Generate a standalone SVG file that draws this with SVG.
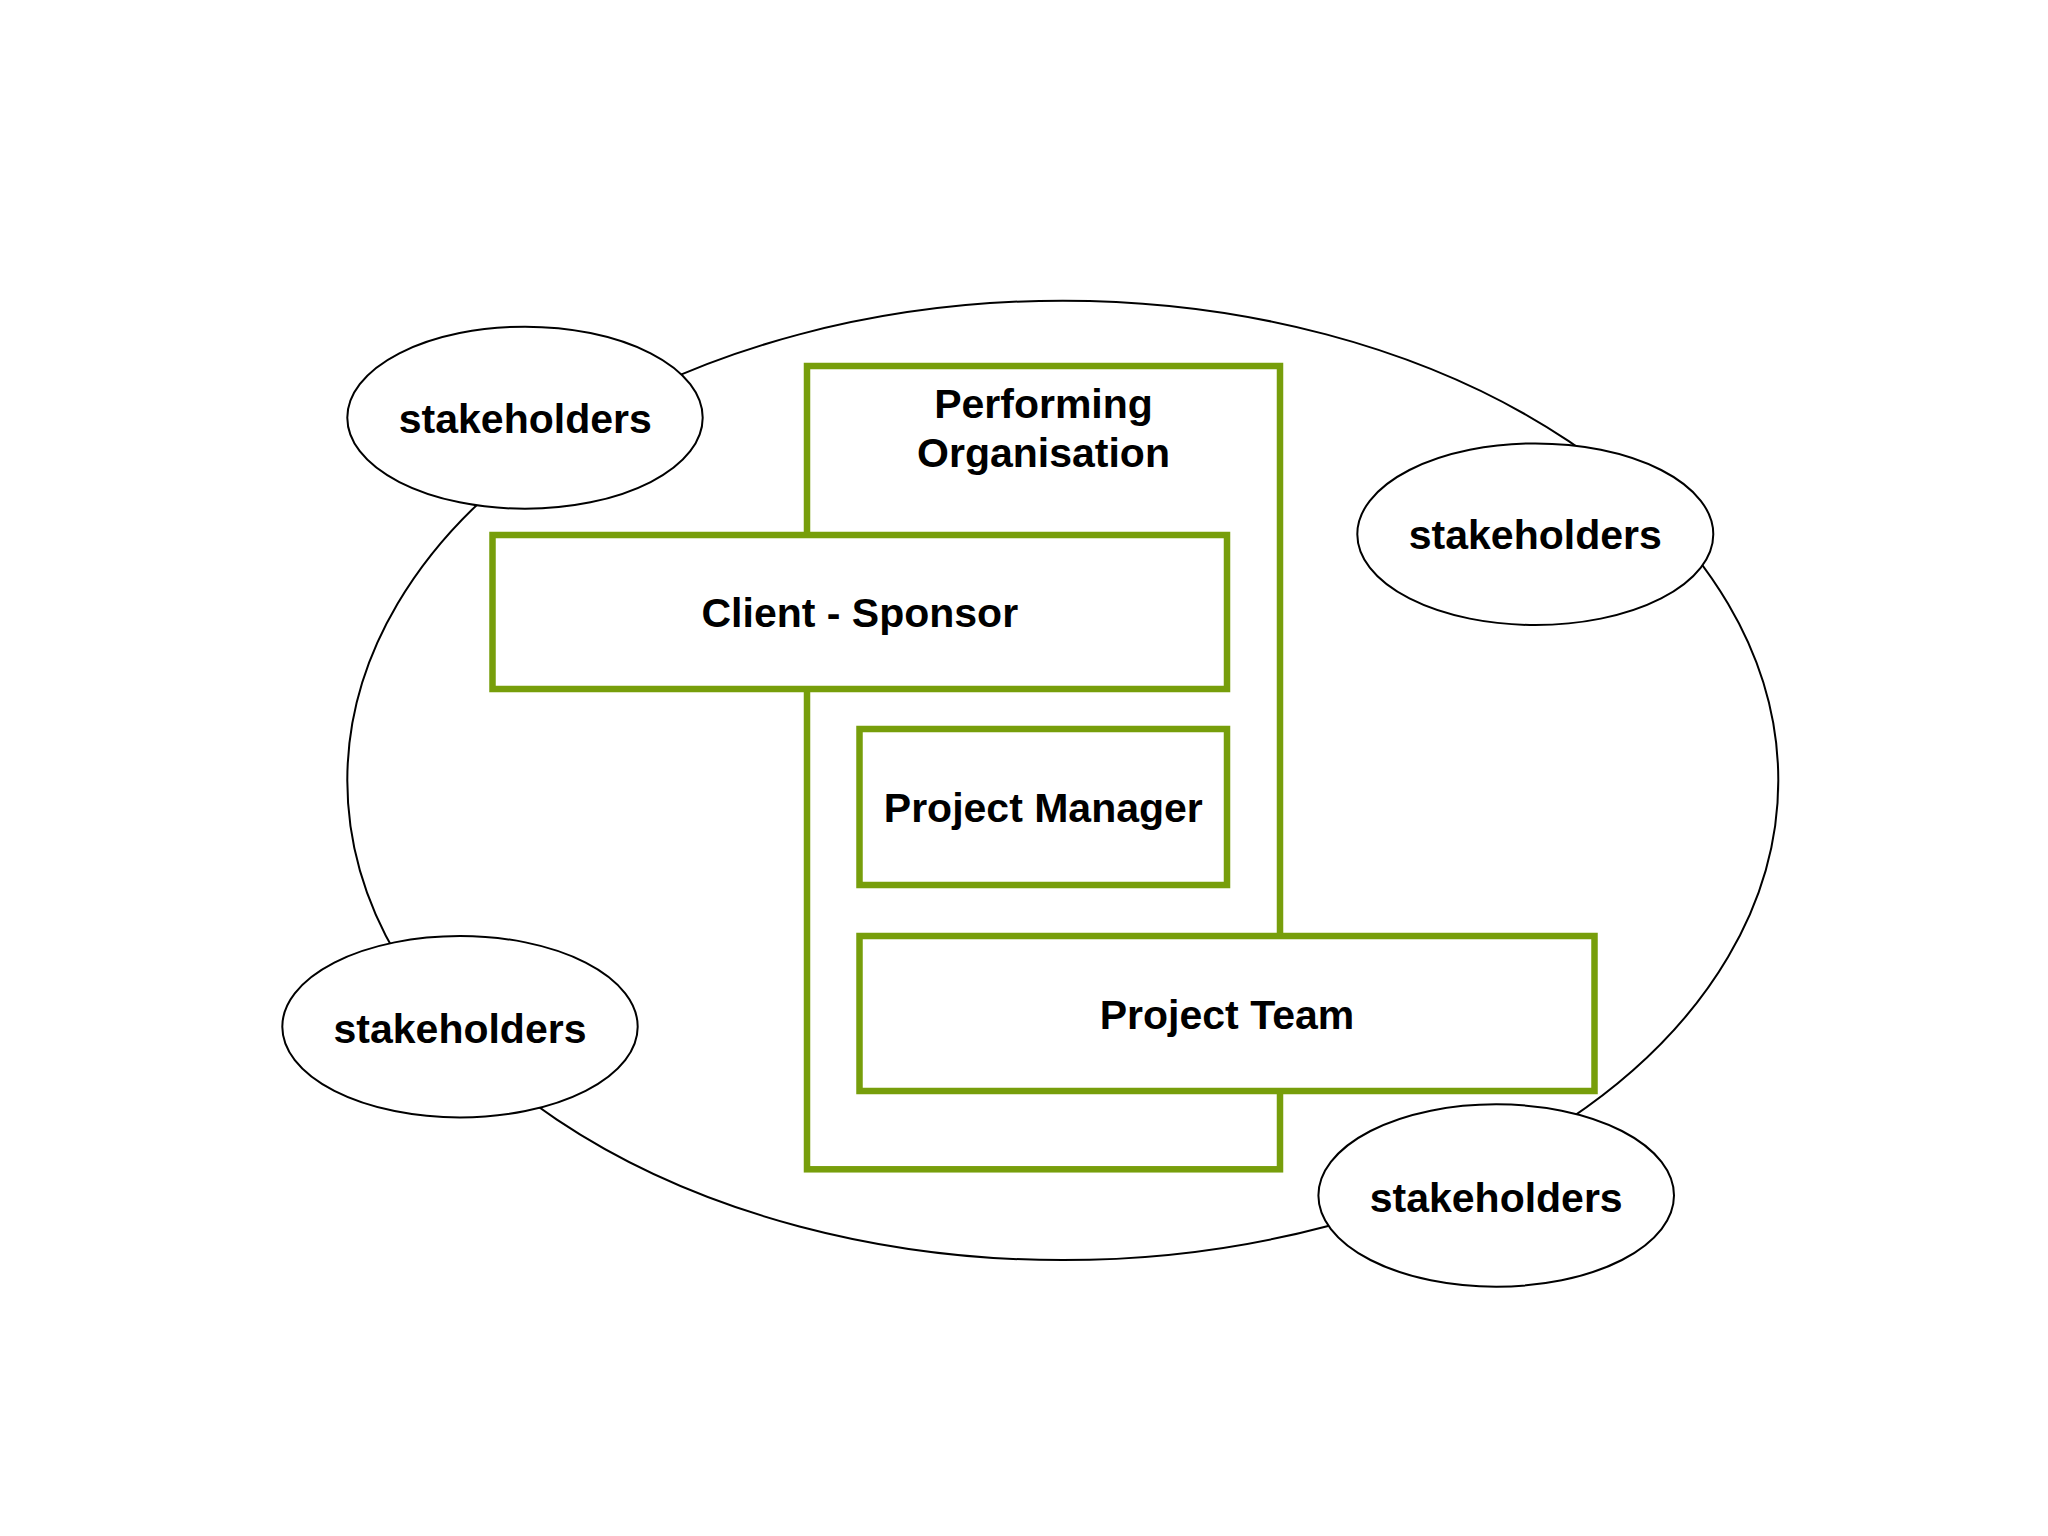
<svg xmlns="http://www.w3.org/2000/svg" width="2048" height="1536" viewBox="0 0 2048 1536">
<style>
  .box { fill: #ffffff; stroke: #779E0B; stroke-width: 6.5; }
  .oval { fill: #ffffff; stroke: #000000; stroke-width: 2; }
  .lbl { font-family: "Liberation Sans", Arial, sans-serif; font-weight: bold; font-size: 41px; fill: #000000; text-anchor: middle; }
</style>
<rect width="2048" height="1536" fill="#ffffff"/>
<g id="environment">
  <ellipse cx="1062.8" cy="780.4" rx="715.5" ry="479.7" fill="none" stroke="#000000" stroke-width="2"/>
</g>
<g id="connectors"></g>
<g id="stakeholders-1">
  <ellipse class="oval" cx="525" cy="417.7" rx="177.7" ry="91"/>
  <text class="lbl" x="525.3" y="433.3">stakeholders</text>
</g>
<g id="stakeholders-2">
  <ellipse class="oval" cx="1535.3" cy="534.2" rx="178" ry="90.8"/>
  <text class="lbl" x="1535.3" y="549.3">stakeholders</text>
</g>
<g id="stakeholders-3">
  <ellipse class="oval" cx="460" cy="1026.7" rx="177.7" ry="90.7"/>
  <text class="lbl" x="460" y="1042.7">stakeholders</text>
</g>
<g id="stakeholders-4">
  <ellipse class="oval" cx="1496.2" cy="1195.5" rx="177.8" ry="91.2"/>
  <text class="lbl" x="1496.2" y="1211.7">stakeholders</text>
</g>
<g id="performing-organisation">
  <rect class="box" x="807" y="366" width="473" height="803.3"/>
  <text class="lbl" x="1043.5" y="418">Performing</text>
  <text class="lbl" x="1043.5" y="467">Organisation</text>
</g>
<g id="client-sponsor">
  <rect class="box" x="492.5" y="535" width="734.5" height="154"/>
  <text class="lbl" x="859.8" y="627">Client - Sponsor</text>
</g>
<g id="project-manager">
  <rect class="box" x="859.5" y="729" width="367.5" height="156"/>
  <text class="lbl" x="1043.3" y="822">Project Manager</text>
</g>
<g id="project-team">
  <rect class="box" x="859.5" y="936" width="735" height="155"/>
  <text class="lbl" x="1227" y="1028.5">Project Team</text>
</g>
</svg>
